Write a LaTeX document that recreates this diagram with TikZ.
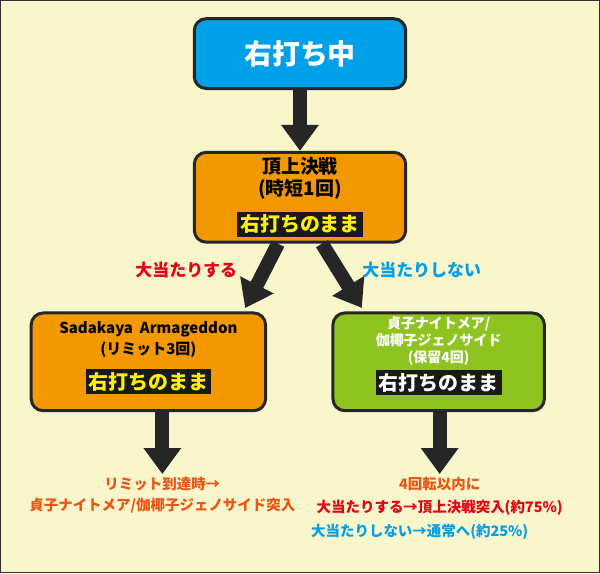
\documentclass[tikz,border=0pt]{standalone}
\usepackage{fontspec}
\newfontfamily\jp{Noto Sans CJK JP}
\usetikzlibrary{positioning, arrows.meta}
\definecolor{cream}{HTML}{FAF6CC}
\definecolor{skyblue}{HTML}{00A0E9}
\definecolor{orng}{HTML}{F39800}
\definecolor{lime}{HTML}{8FC31F}
\definecolor{redtxt}{HTML}{E60012}
\definecolor{orgtxt}{HTML}{E95513}
\tikzset{box/.style={draw=black!85,line width=3pt,rounded corners=12pt,align=center,font=\jp\bfseries},
         tag/.style={fill=black!90,inner sep=3pt,font=\jp\bfseries\fontsize{20}{22}\selectfont},
         fat/.style={line width=14pt,-{Triangle[width=36pt,length=26pt]},black!85},
         note/.style={font=\jp\bfseries\fontsize{14.5}{17}\selectfont},
        }
\begin{document}
\begin{tikzpicture}[x=1pt,y=-1pt]
        \draw[fill=cream,draw=black!80,line width=1.5pt](0,0)rectangle(600,573);

        \node[box,fill=skyblue,minimum width=212pt,minimum height=70pt,text=white,
              font=\jp\bfseries\fontsize{28}{32}\selectfont](top)at(300,53){右打ち中};
        \node[box,fill=orng,minimum width=212pt,minimum height=90pt](mid)at(300,197){};
        \node[font=\jp\bfseries\fontsize{19}{22}\selectfont,align=center](midt)at(300,178){頂上決戦\\(時短1回)};
        \node[tag,text=yellow](midtag)at(300,224){右打ちのまま};

        \node[box,fill=orng,minimum width=235pt,minimum height=98pt](left)at(148,362){};
        \node[font=\jp\bfseries\fontsize{15}{21}\selectfont,align=center](leftt)at(148,340){Sadakaya\ \ Armageddon\\(リミット3回)};
        \node[tag,text=yellow](lefttag)at(148,382){右打ちのまま};

        \node[box,fill=lime,minimum width=212pt,minimum height=98pt](right)at(439,362){};
        \node[font=\jp\bfseries\fontsize{14}{17}\selectfont,text=white,align=center](rightt)at(439,341){貞子ナイトメア/\\伽椰子ジェノサイド\\(保留4回)};
        \node[tag,text=white](righttag)at(439,383){右打ちのまま};

        \draw[fat](top.south)--(mid.north);
        \coordinate(lhead)at(245,308);
        \coordinate(rhead)at(362,308);
        \draw[fat](mid.south)++(-22,0)--(lhead);
        \draw[fat](mid.south)++(22,0)--(rhead);
        \node[note,text=redtxt,font=\jp\bfseries\fontsize{17}{20}\selectfont](hit)at(186,270){大当たりする};
        \node[note,text=skyblue,font=\jp\bfseries\fontsize{17}{20}\selectfont](miss)at(422,270){大当たりしない};

        \node[note,text=orgtxt,align=center](leftres)at(162,496){リミット到達時→\\[4pt]貞子ナイトメア/伽椰子ジェノサイド突入};
        \node[note,text=orgtxt](rightres1)at(440,484){4回転以内に};
        \node[note,text=redtxt](rightres2)at(440,508){大当たりする→頂上決戦突入(約75\%)};
        \node[note,text=skyblue](rightres3)at(420,532){大当たりしない→通常へ(約25\%)};

        \draw[fat](left.south-|leftres)--++(0,62);
        \draw[fat](right.south-|rightres1)--++(0,62);
\end{tikzpicture}
\end{document}
